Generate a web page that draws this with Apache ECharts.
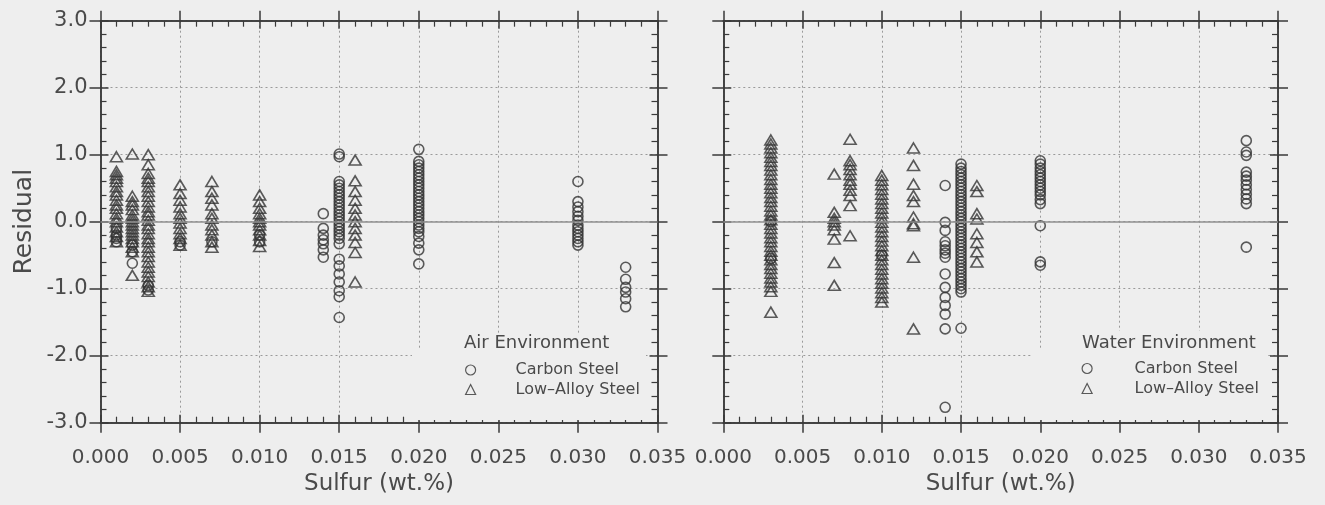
<!DOCTYPE html>
<html>
<head>
<meta charset="utf-8">
<script src="https://cdn.jsdelivr.net/npm/echarts@6/dist/echarts.min.js"></script>
<style>
html,body{margin:0;padding:0;background:#eeeeee;}
#chart{width:1325px;height:505px;}
</style>
</head>
<body>
<div id="chart"></div>
<script>
// ---- Data (sulfur wt.% columns, residuals per column) ----
const xTicks = [0, 0.005, 0.010, 0.015, 0.020, 0.025, 0.030, 0.035];
const yTicks = [-3, -2, -1, 0, 1, 2, 3];

const airCarbonS = [0.001, 0.002, 0.003, 0.005, 0.007, 0.010, 0.014, 0.015, 0.020, 0.030, 0.033];
const airCarbonR = [
  [-0.1, -0.2, -0.25, -0.3],
  [-0.35, -0.45, -0.62],
  [-0.95, -1.02],
  [-0.3, -0.35],
  [-0.3],
  [-0.2, -0.3],
  [0.12, -0.1, -0.2, -0.27, -0.33, -0.42, -0.53],
  [1.01, 0.97, 0.6, 0.55, 0.5, 0.45, 0.4, 0.35, 0.3, 0.25, 0.2, 0.15, 0.1, 0.05, 0.0, -0.05, -0.1, -0.15, -0.2, -0.25, -0.33, -0.56, -0.66, -0.78, -0.9, -1.03, -1.12, -1.43],
  [1.08, 0.9, 0.85, 0.8, 0.75, 0.7, 0.65, 0.6, 0.55, 0.5, 0.45, 0.4, 0.35, 0.3, 0.25, 0.2, 0.15, 0.1, 0.05, 0.0, -0.05, -0.1, -0.15, -0.22, -0.32, -0.42, -0.63],
  [0.6, 0.3, 0.22, 0.15, 0.08, 0.02, -0.05, -0.1, -0.15, -0.2, -0.25, -0.3, -0.35],
  [-0.68, -0.86, -0.98, -1.05, -1.15, -1.27]
];

const airAlloyS = [0.001, 0.002, 0.003, 0.005, 0.007, 0.010, 0.016];
const airAlloyR = [
  [0.97, 0.75, 0.7, 0.65, 0.6, 0.52, 0.45, 0.4, 0.32, 0.25, 0.2, 0.12, 0.05, 0.0, -0.08, -0.15, -0.22, -0.3],
  [1.01, 0.38, 0.3, 0.25, 0.18, 0.1, 0.05, 0.0, -0.05, -0.1, -0.15, -0.2, -0.25, -0.3, -0.38, -0.45, -0.8],
  [1.0, 0.85, 0.72, 0.65, 0.6, 0.52, 0.45, 0.38, 0.3, 0.22, 0.15, 0.1, 0.02, -0.05, -0.1, -0.18, -0.25, -0.3, -0.38, -0.45, -0.52, -0.6, -0.68, -0.75, -0.82, -0.9, -0.97, -1.04],
  [0.55, 0.42, 0.32, 0.22, 0.12, 0.05, -0.02, -0.1, -0.18, -0.25, -0.35],
  [0.6, 0.45, 0.35, 0.25, 0.12, 0.05, -0.05, -0.12, -0.2, -0.3, -0.38],
  [0.4, 0.3, 0.2, 0.12, 0.05, 0.0, -0.05, -0.12, -0.2, -0.28, -0.37],
  [0.92, 0.61, 0.45, 0.32, 0.2, 0.1, 0.0, -0.1, -0.2, -0.31, -0.46, -0.9]
];

const waterCarbonS = [0.003, 0.010, 0.014, 0.015, 0.020, 0.033];
const waterCarbonR = [
  [0.0, -0.55],
  [-0.5],
  [0.54, -0.01, -0.13, -0.3, -0.36, -0.42, -0.47, -0.53, -0.78, -0.98, -1.13, -1.25, -1.38, -1.6, -2.77],
  [0.86, 0.8, 0.75, 0.7, 0.65, 0.6, 0.55, 0.5, 0.45, 0.4, 0.35, 0.3, 0.25, 0.2, 0.15, 0.1, 0.05, 0.0, -0.05, -0.1, -0.15, -0.2, -0.25, -0.3, -0.35, -0.4, -0.45, -0.5, -0.55, -0.6, -0.65, -0.7, -0.75, -0.8, -0.85, -0.9, -0.95, -1.0, -1.05, -1.59],
  [0.91, 0.86, 0.8, 0.75, 0.7, 0.65, 0.6, 0.55, 0.5, 0.45, 0.4, 0.33, 0.27, -0.06, -0.6, -0.65],
  [1.21, 1.04, 0.99, 0.74, 0.68, 0.62, 0.55, 0.48, 0.41, 0.34, 0.27, -0.38]
];

const waterAlloyS = [0.003, 0.007, 0.008, 0.010, 0.012, 0.016];
const waterAlloyR = [
  [1.22, 1.16, 1.1, 1.03, 0.96, 0.9, 0.84, 0.77, 0.7, 0.63, 0.56, 0.5, 0.43, 0.36, 0.3, 0.23, 0.16, 0.1, 0.03, -0.04, -0.1, -0.17, -0.24, -0.3, -0.37, -0.44, -0.5, -0.57, -0.64, -0.7, -0.77, -0.84, -0.9, -0.97, -1.04, -1.35],
  [0.71, 0.14, 0.05, 0.0, -0.05, -0.12, -0.26, -0.61, -0.95],
  [1.23, 0.91, 0.85, 0.78, 0.7, 0.62, 0.56, 0.47, 0.39, 0.24, -0.21],
  [0.69, 0.62, 0.55, 0.48, 0.41, 0.34, 0.27, 0.2, 0.13, 0.06, -0.01, -0.08, -0.15, -0.22, -0.29, -0.36, -0.43, -0.5, -0.57, -0.64, -0.71, -0.78, -0.85, -0.92, -0.99, -1.06, -1.13, -1.2],
  [1.1, 0.84, 0.56, 0.39, 0.3, 0.07, -0.03, -0.06, -0.53, -1.6],
  [0.54, 0.45, 0.12, 0.04, -0.18, -0.31, -0.45, -0.6]
];

const seriesNames = ['Carbon Steel', 'Low\u2013Alloy Steel'];
const panelTitles = ['Air Environment', 'Water Environment'];
const xAxisName = 'Sulfur (wt.%)';
const yAxisName = 'Residual';

// ---- Build ----
function pairs(S, R) {
  const out = [];
  S.forEach((s, i) => R[i].forEach(r => out.push([s, r])));
  return out;
}

const FONT = 'DejaVu Sans';
const TXT = '#4a4a4a';
const LINE = '#3a3a3a';
const BG = '#eeeeee';

function xAxes(gridIndex) {
  const base = {
    type: 'value', gridIndex, min: 0, max: 0.035, interval: 0.005,
    axisLine: { show: true, onZero: false, lineStyle: { color: LINE, width: 1.5 } },
    splitLine: { show: false }, axisLabel: { show: false }
  };
  return [
    Object.assign({}, base, {
      position: 'bottom',
      name: xAxisName, nameLocation: 'middle', nameGap: 50,
      nameTextStyle: { fontFamily: FONT, fontSize: 23, color: TXT },
      axisTick: { show: true, inside: false, length: 10, lineStyle: { color: LINE, width: 1.5 } },
      axisLabel: {
        show: true, margin: 25, fontFamily: FONT, fontSize: 20, color: TXT,
        showMinLabel: true, showMaxLabel: true, hideOverlap: false,
        formatter: v => v.toFixed(3)
      }
    }),
    Object.assign({}, base, {
      position: 'bottom',
      axisTick: { show: true, inside: true, length: 8, lineStyle: { color: LINE, width: 1.5 } },
      minorTick: { show: true, splitNumber: 5, length: 6, lineStyle: { color: LINE, width: 1.2 } },
      splitLine: { show: true, lineStyle: { color: '#9a9a9a', width: 1, type: [2, 3] } }
    }),
    Object.assign({}, base, {
      position: 'top',
      axisTick: { show: true, inside: false, length: 10, lineStyle: { color: LINE, width: 1.5 } }
    }),
    Object.assign({}, base, {
      position: 'top',
      axisTick: { show: true, inside: true, length: 8, lineStyle: { color: LINE, width: 1.5 } },
      minorTick: { show: true, splitNumber: 5, length: 6, lineStyle: { color: LINE, width: 1.2 } }
    })
  ];
}

function yAxes(gridIndex, withLabels) {
  const base = {
    type: 'value', gridIndex, min: -3, max: 3, interval: 1,
    axisLine: { show: true, onZero: false, lineStyle: { color: LINE, width: 1.5 } },
    splitLine: { show: false }, axisLabel: { show: false }
  };
  const main = Object.assign({}, base, {
    position: 'left',
    axisTick: { show: true, inside: false, length: 11, lineStyle: { color: LINE, width: 1.5 } }
  });
  if (withLabels) {
    Object.assign(main, {
      name: yAxisName, nameLocation: 'middle', nameGap: 64, nameRotate: 90,
      nameTextStyle: { fontFamily: FONT, fontSize: 25, color: TXT },
      axisLabel: {
        show: true, margin: 13, fontFamily: FONT, fontSize: 21, color: TXT,
        showMinLabel: true, showMaxLabel: true, formatter: v => v.toFixed(1)
      }
    });
  }
  return [
    main,
    Object.assign({}, base, {
      position: 'left',
      axisTick: { show: true, inside: true, length: 8, lineStyle: { color: LINE, width: 1.5 } },
      minorTick: { show: true, splitNumber: 5, length: 6, lineStyle: { color: LINE, width: 1.2 } },
      splitLine: { show: true, lineStyle: { color: '#9a9a9a', width: 1, type: [2, 3] } }
    }),
    Object.assign({}, base, {
      position: 'right',
      axisTick: { show: true, inside: false, length: 10, lineStyle: { color: LINE, width: 1.5 } }
    }),
    Object.assign({}, base, {
      position: 'right',
      axisTick: { show: true, inside: true, length: 8, lineStyle: { color: LINE, width: 1.5 } },
      minorTick: { show: true, splitNumber: 5, length: 6, lineStyle: { color: LINE, width: 1.2 } }
    })
  ];
}

const hollow = { color: 'rgba(0,0,0,0)', borderColor: '#333333', borderWidth: 1.6 };
const zeroLine = {
  silent: true, symbol: 'none', label: { show: false },
  lineStyle: { color: '#8f8f8f', type: 'solid', width: 1.5 },
  data: [{ yAxis: 0 }]
};

function scatter(name, data, axisIdx, symbol, size, withZero) {
  const s = {
    type: 'scatter', name, data, xAxisIndex: axisIdx, yAxisIndex: axisIdx,
    symbol, symbolSize: size, itemStyle: hollow, z: 3,
    emphasis: { disabled: true }, animation: false
  };
  if (withZero) s.markLine = zeroLine;
  return s;
}

function legendFor(left, top, gap, padLeft) {
  return {
    data: seriesNames, orient: 'vertical', left, top, padding: 0,
    itemWidth: 10, itemHeight: 10, itemGap: gap, selectedMode: false,
    itemStyle: { borderWidth: 1.2 },
    textStyle: { fontFamily: FONT, fontSize: 16, color: TXT, lineHeight: 16, padding: [0, 0, 0, padLeft] }
  };
}

const chart = echarts.init(document.getElementById('chart'), null, { renderer: 'canvas' });
chart.setOption({
  backgroundColor: BG,
  animation: false,
  grid: [
    { left: 100.5, right: 667.5, top: 20.7, bottom: 82.3 },
    { left: 723.3, right: 47, top: 20.7, bottom: 82.3 }
  ],
  xAxis: xAxes(0).concat(xAxes(1)),
  yAxis: yAxes(0, true).concat(yAxes(1, false)),
  title: [
    { text: panelTitles[0], left: 464, top: 334, padding: 0,
      textStyle: { fontFamily: FONT, fontSize: 18, fontWeight: 'normal', color: TXT } },
    { text: panelTitles[1], left: 1082, top: 334, padding: 0,
      textStyle: { fontFamily: FONT, fontSize: 18, fontWeight: 'normal', color: TXT } }
  ],
  legend: [
    legendFor(465, 362, 3.5, 35),
    legendFor(1081.5, 360.5, 4, 37.5)
  ],
  graphic: {
    elements: [
      { type: 'rect', z: 1, shape: { x: 424, y: 334, width: 222, height: 86 }, style: { fill: BG } },
      { type: 'rect', z: 1, shape: { x: 412, y: 349, width: 14, height: 71 }, style: { fill: BG } },
      { type: 'rect', z: 1, shape: { x: 1045, y: 331, width: 222, height: 89 }, style: { fill: BG } },
      { type: 'rect', z: 1, shape: { x: 1033, y: 349, width: 14, height: 71 }, style: { fill: BG } }
    ]
  },
  series: [
    scatter(seriesNames[0], pairs(airCarbonS, airCarbonR), 0, 'circle', 10, true),
    scatter(seriesNames[1], pairs(airAlloyS, airAlloyR), 0, 'triangle', [12, 10], false),
    scatter(seriesNames[0], pairs(waterCarbonS, waterCarbonR), 4, 'circle', 10, true),
    scatter(seriesNames[1], pairs(waterAlloyS, waterAlloyR), 4, 'triangle', [12, 10], false)
  ]
});
</script>
</body>
</html>
